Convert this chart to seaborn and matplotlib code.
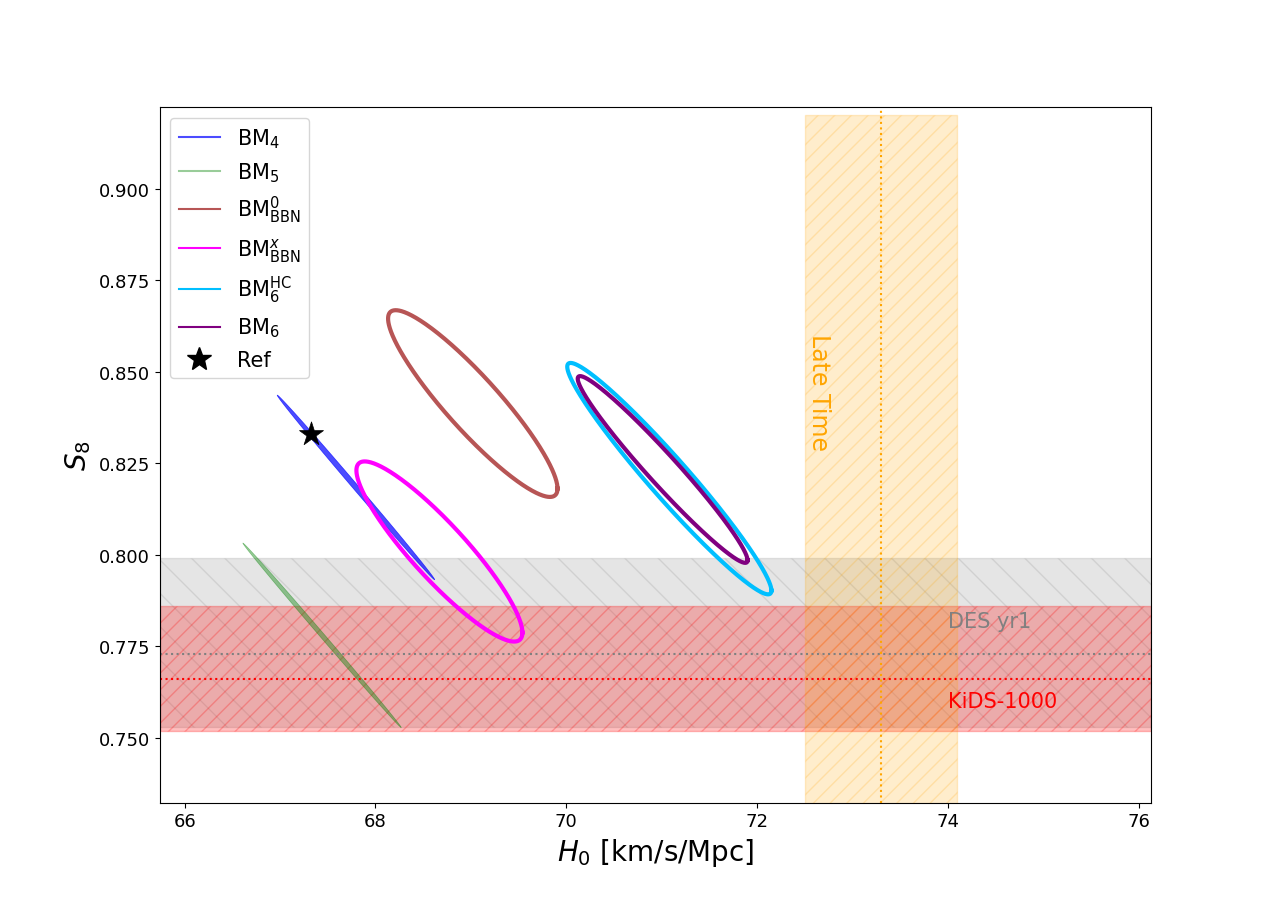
import numpy as np
import matplotlib
matplotlib.use("Agg")
import matplotlib.pyplot as plt
from matplotlib.lines import Line2D
import seaborn as sns

# ------------------------------------------------------------
# Contour summaries: centre, half-extent
# along each axis and the H0-S8 correlation of each contour
# ------------------------------------------------------------
LABELS  = [r"BM$_4$", r"BM$_5$", r"BM$_{\rm BBN}^{0}$", r"BM$_{\rm BBN}^{x}$",
           r"BM$_6^{\rm HC}$", r"BM$_6$"]
H0_MEAN = [67.795, 67.44, 69.02, 68.67, 71.08, 71.01]
H0_HALF = [0.825, 0.83, 0.888, 0.87, 1.07, 0.89]
S8_MEAN = [0.8184, 0.778, 0.8413, 0.8009, 0.8208, 0.8233]
S8_HALF = [0.0252, 0.0252, 0.0255, 0.0246, 0.0316, 0.0255]
RHO     = [-0.999, -0.9993, -0.91, -0.90, -0.967, -0.972]
COLORS  = ["blue", "green", "brown", "magenta", "deepskyblue", "purple"]
ALPHAS  = [0.7, 0.4, 0.8, 1.0, 1.0, 1.0]
FILLED  = [True, True, False, False, False, False]

# reference point
REF_H0, REF_S8 = 67.32, 0.8331

# external constraints
DES_S8, DES_LO, DES_HI = 0.773, 0.753, 0.799
KIDS_S8, KIDS_LO, KIDS_HI = 0.766, 0.752, 0.786
LATE_H0, LATE_LO, LATE_HI = 73.3, 72.5, 74.1

fig, ax = plt.subplots(figsize=(12.79, 9.03), dpi=100)

# bands
ax.axhspan(DES_LO, DES_HI, color="grey", alpha=0.2, hatch="\\")
ax.axhline(DES_S8, color="grey", ls=":", lw=1.5)
ax.axhspan(KIDS_LO, KIDS_HI, color="red", alpha=0.25, hatch="//")
ax.axhline(KIDS_S8, color="red", ls=":", lw=1.5)
ax.fill_betweenx([0.70, 0.92], LATE_LO, LATE_HI, color="orange", alpha=0.2, hatch="//")
ax.axvline(LATE_H0, color="orange", ls=":", lw=1.5)

# contours
t = np.linspace(0, 2 * np.pi, 600)
for i in range(len(LABELS)):
    r = RHO[i]
    x = H0_MEAN[i] + H0_HALF[i] * np.cos(t)
    y = S8_MEAN[i] + S8_HALF[i] * (r * np.cos(t) + np.sqrt(1 - r**2) * np.sin(t))
    if FILLED[i]:
        ax.fill(x, y, color=COLORS[i], alpha=ALPHAS[i], lw=0.5)
    else:
        sns.lineplot(x=x, y=y, sort=False, estimator=None, color=COLORS[i],
                     alpha=ALPHAS[i], lw=3, ax=ax)

sns.scatterplot(x=[REF_H0], y=[REF_S8], marker="*", s=330, color="black",
                edgecolor="black", linewidth=0.5, zorder=5, ax=ax)

# labels on the bands
ax.text(72.52, 0.8605, "Late Time", color="orange", fontsize=17,
        rotation=-90, ha="left", va="top")
ax.text(74.0, 0.7803, "DES yr1", color="grey", fontsize=15)
ax.text(74.0, 0.7585, "KiDS-1000", color="red", fontsize=15)

ax.set_xlim(65.74, 76.13)
ax.set_ylim(0.7323, 0.9222)
ax.set_xlabel(r"$H_0$ [km/s/Mpc]", fontsize=20)
ax.set_ylabel(r"$S_8$", fontsize=20)
ax.tick_params(labelsize=13)

handles = [Line2D([0], [0], color=c, alpha=a, lw=1.5) for c, a in zip(COLORS, ALPHAS)]
handles.append(Line2D([0], [0], marker="*", color="black", ls="none", markersize=18))
ax.legend(handles, LABELS + ["Ref"], loc="upper left", fontsize=15)

plt.savefig("out.png", dpi=100)
